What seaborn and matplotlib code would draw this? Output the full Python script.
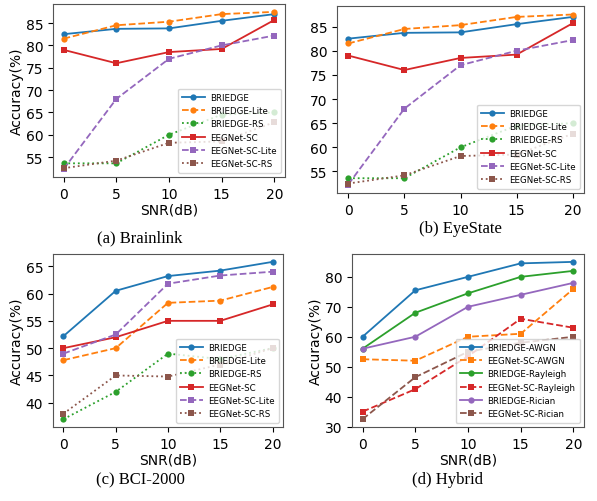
import matplotlib
matplotlib.use('Agg')
import matplotlib.pyplot as plt
from matplotlib.ticker import MultipleLocator
import seaborn as sns

plt.rcParams['font.family'] = ['DejaVu Sans']

# SNR 축
snr = [0, 5, 10, 15, 20]

# (a) Brainlink / (b) EyeState
brainlink_briedge = [82.5, 83.7, 83.8, 85.5, 87.0]
brainlink_briedge_lite = [81.5, 84.5, 85.3, 87.0, 87.5]
brainlink_briedge_rs = [53.6, 53.6, 60.0, 64.5, 65.0]
brainlink_eegnet = [79.0, 76.0, 78.5, 79.2, 85.7]
brainlink_eegnet_lite = [52.3, 68.0, 77.0, 80.0, 82.2]
brainlink_eegnet_rs = [52.5, 54.2, 58.2, 58.5, 62.8]

eyestate_briedge = [82.5, 83.7, 83.8, 85.5, 87.0]
eyestate_briedge_lite = [81.5, 84.5, 85.3, 87.0, 87.5]
eyestate_briedge_rs = [53.6, 53.6, 60.0, 64.5, 65.0]
eyestate_eegnet = [79.0, 76.0, 78.5, 79.2, 85.7]
eyestate_eegnet_lite = [52.3, 68.0, 77.0, 80.0, 82.2]
eyestate_eegnet_rs = [52.5, 54.2, 58.2, 58.5, 62.8]

# (c) BCI-2000
bci_briedge = [52.2, 60.5, 63.2, 64.2, 65.8]
bci_briedge_lite = [47.8, 50.0, 58.3, 58.7, 61.2]
bci_briedge_rs = [37.0, 42.0, 49.0, 48.0, 50.0]
bci_eegnet = [50.0, 52.0, 55.0, 55.0, 58.0]
bci_eegnet_lite = [49.0, 52.5, 61.8, 63.3, 64.0]
bci_eegnet_rs = [38.0, 45.0, 44.8, 47.0, 50.0]

# (d) Hybrid
hyb_briedge_awgn = [60.0, 75.5, 80.0, 84.5, 85.0]
hyb_eegnet_awgn = [52.5, 52.0, 60.0, 61.0, 76.0]
hyb_briedge_rayleigh = [56.0, 68.0, 74.5, 80.0, 82.0]
hyb_eegnet_rayleigh = [35.0, 42.5, 53.5, 66.0, 63.0]
hyb_briedge_rician = [56.0, 60.0, 70.0, 74.0, 78.0]
hyb_eegnet_rician = [32.5, 46.5, 55.0, 58.0, 60.0]

labels_abc = ['BRIEDGE', 'BRIEDGE-Lite', 'BRIEDGE-RS', 'EEGNet-SC', 'EEGNet-SC-Lite', 'EEGNet-SC-RS']
labels_d = ['BRIEDGE-AWGN', 'EEGNet-SC-AWGN', 'BRIEDGE-Rayleigh',
            'EEGNet-SC-Rayleigh', 'BRIEDGE-Rician', 'EEGNet-SC-Rician']

colors = sns.color_palette('tab10', 6)
styles_abc = [('-', 'o'), ('--', 'o'), (':', 'o'), ('-', 's'), ('--', 's'), (':', 's')]
styles_d = [('-', 'o'), ('--', 's'), ('-', 'o'), ('--', 's'), ('-', 'o'), ('--', 's')]


def draw(ax, series, labels, styles, ystep, xlabel=True, ylabel=True):
    for i, (vals, lab) in enumerate(zip(series, labels)):
        ls, mk = styles[i]
        sns.lineplot(x=snr, y=vals, ax=ax, label=lab, color=colors[i],
                     linestyle=ls, marker=mk, markersize=4.5, markeredgewidth=0,
                     linewidth=1.3)
    ax.set_xticks(snr)
    ax.yaxis.set_major_locator(MultipleLocator(ystep))
    ax.tick_params(labelsize=10, length=3.5)
    if xlabel:
        ax.set_xlabel('SNR(dB)', fontsize=10, labelpad=1)
    else:
        ax.set_xlabel('')
    if ylabel:
        ax.set_ylabel('Accuracy(%)', fontsize=10, labelpad=1)
    else:
        ax.set_ylabel('')
    for s in ax.spines.values():
        s.set_color('#555555')
    ax.legend(loc='lower right', fontsize=6.2, handlelength=2.6,
              borderpad=0.5, labelspacing=0.5, handletextpad=0.6)


fig = plt.figure(figsize=(5.97, 5.02), dpi=100)
W, H = 597, 502


def add_ax(x0, y0, x1, y1):
    return fig.add_axes([x0 / W, 1 - y1 / H, (x1 - x0) / W, (y1 - y0) / H])


ax_a = add_ax(53, 5, 285, 178)
draw(ax_a, [brainlink_briedge, brainlink_briedge_lite, brainlink_briedge_rs,
            brainlink_eegnet, brainlink_eegnet_lite, brainlink_eegnet_rs],
     labels_abc, styles_abc, 5)

ax_b = add_ax(337, 7, 584, 194)
draw(ax_b, [eyestate_briedge, eyestate_briedge_lite, eyestate_briedge_rs,
            eyestate_eegnet, eyestate_eegnet_lite, eyestate_eegnet_rs],
     labels_abc, styles_abc, 5, xlabel=False, ylabel=False)

ax_c = add_ax(53, 255, 283, 428)
draw(ax_c, [bci_briedge, bci_briedge_lite, bci_briedge_rs,
            bci_eegnet, bci_eegnet_lite, bci_eegnet_rs],
     labels_abc, styles_abc, 5)

ax_d = add_ax(352, 255, 584, 428)
draw(ax_d, [hyb_briedge_awgn, hyb_eegnet_awgn, hyb_briedge_rayleigh,
            hyb_eegnet_rayleigh, hyb_briedge_rician, hyb_eegnet_rician],
     labels_d, styles_d, 10)

# 캡션
cap = dict(fontsize=12, family='Liberation Serif', ha='center', va='center')
fig.text(140 / W, 1 - 238 / H, '(a) Brainlink', **cap)
fig.text(460 / W, 1 - 229 / H, '(b) EyeState', **cap)
fig.text(140 / W, 1 - 480 / H, '(c) BCI-2000', **cap)
fig.text(448 / W, 1 - 480 / H, '(d) Hybrid', **cap)

fig.savefig('out.png', dpi=100)
